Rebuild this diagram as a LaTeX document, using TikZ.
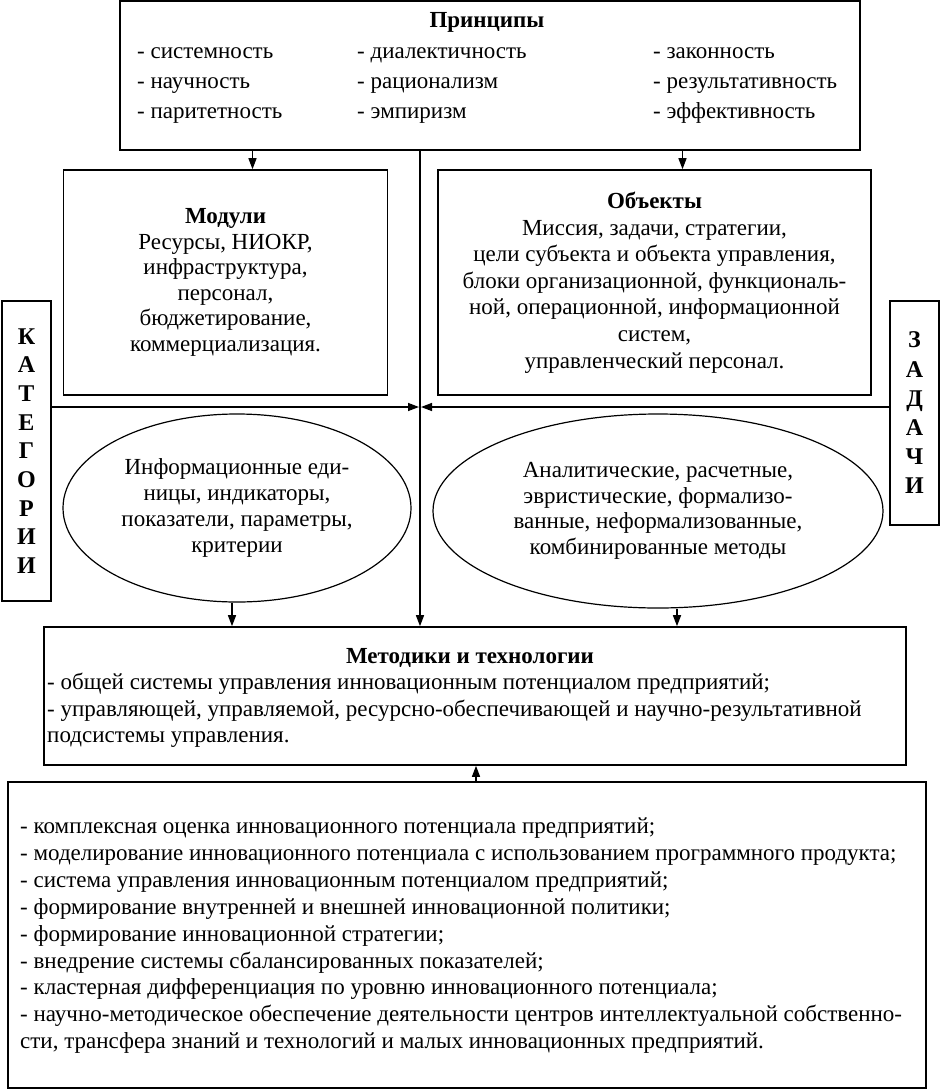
\documentclass[tikz,border=0pt]{standalone}
\usepackage{fontspec}
\setmainfont{Liberation Serif}
\usetikzlibrary{shapes.geometric,arrows.meta}

\tikzset{
  box/.style={draw, line width=1.6pt, inner sep=0pt},
  oval/.style={draw, ellipse, line width=1.2pt, inner sep=0pt},
  txt/.style={inner sep=0pt, text height=16pt, text depth=8pt},
  arr/.style={line width=1.4pt, -{Triangle[length=11pt,width=8pt]}},
  every node/.style={font=\fontsize{23}{26}\selectfont},
}

\begin{document}
\begin{tikzpicture}[x=1pt,y=-1pt]
        \useasboundingbox (0,0) rectangle (941,1090);

        % principles
        \node[box, minimum width=740pt, minimum height=149pt] (princ) at (490,75.5) {};
        \node[txt, font=\fontsize{23}{26}\bfseries] (princt) at (487,23) {Принципы};
        \node[txt, anchor=west] (p11) at (137,54) {- системность};
        \node[txt, anchor=west] (p12) at (137,84) {- научность};
        \node[txt, anchor=west] (p13) at (137,114) {- паритетность};
        \node[txt, anchor=west] (p21) at (357,54) {- диалектичность};
        \node[txt, anchor=west] (p22) at (357,84) {- рационализм};
        \node[txt, anchor=west] (p23) at (357,114) {- эмпиризм};
        \node[txt, anchor=west] (p31) at (653,54) {- законность};
        \node[txt, anchor=west] (p32) at (653,84) {- результативность};
        \node[txt, anchor=west] (p33) at (653,114) {- эффективность};

        % modules and objects
        \node[box, minimum width=324pt, minimum height=225pt, align=center,
              font=\fontsize{23}{25.6}\selectfont] (mod) at (225.5,282.5)
            {\textbf{Модули}\\Ресурсы, НИОКР,\\инфраструктура,\\персонал,\\бюджетирование,\\коммерциализация.};
        \node[box, minimum width=433pt, minimum height=225pt, align=center,
              font=\fontsize{23}{26.6}\selectfont] (obj) at (654.5,282.5)
            {\textbf{Объекты}\\Миссия, задачи, стратегии,\\цели субъекта и объекта управления,\\блоки организационной, функциональ-\\ной, операционной, информационной\\систем,\\управленческий персонал.};

        % side boxes
        \node[box, minimum width=49pt, minimum height=300pt, align=center,
              font=\fontsize{24}{28.7}\bfseries] (kat) at (26.5,451)
            {К\\А\\Т\\Е\\Г\\О\\Р\\И\\И};
        \node[box, minimum width=49pt, minimum height=224pt, align=center,
              font=\fontsize{24}{29.2}\bfseries] (zad) at (914.5,413)
            {З\\А\\Д\\А\\Ч\\И};

        % ovals
        \node[oval, minimum width=348pt, minimum height=188pt, align=center,
              font=\fontsize{23}{26.3}\selectfont] (ell1) at (237,508)
            {Информационные еди-\\ницы, индикаторы,\\показатели, параметры,\\критерии};
        \node[oval, minimum width=450pt, minimum height=194pt, align=center,
              font=\fontsize{23}{25.5}\selectfont] (ell2) at (658,511)
            {Аналитические, расчетные,\\эвристические, формализо-\\ванные, неформализованные,\\комбинированные методы};

        % methods
        \node[box, minimum width=862pt, minimum height=138pt] (met) at (475,696) {};
        \node[txt, font=\fontsize{23}{26}\bfseries] (mett) at (470,659) {Методики и технологии};
        \node[txt, anchor=west] (m1) at (47,685) {- общей системы управления инновационным потенциалом предприятий;};
        \node[txt, anchor=west] (m2) at (47,712) {- управляющей, управляемой, ресурсно-обеспечивающей и научно-результативной};
        \node[txt, anchor=west] (m3) at (47,738) {подсистемы управления.};

        % results
        \node[box, minimum width=918pt, minimum height=306pt] (bot) at (467,935) {};
        \node[txt, anchor=west] (b1) at (20,829) {- комплексная оценка инновационного потенциала предприятий;};
        \node[txt, anchor=west] (b2) at (20,856) {- моделирование инновационного потенциала с использованием программного продукта;};
        \node[txt, anchor=west] (b3) at (20,883) {- система управления инновационным потенциалом предприятий;};
        \node[txt, anchor=west] (b4) at (20,910) {- формирование внутренней и внешней инновационной политики;};
        \node[txt, anchor=west] (b5) at (20,937) {- формирование инновационной стратегии;};
        \node[txt, anchor=west] (b6) at (20,964) {- внедрение системы сбалансированных показателей;};
        \node[txt, anchor=west] (b7) at (20,990) {- кластерная дифференциация по уровню инновационного потенциала;};
        \node[txt, anchor=west] (b8) at (20,1017) {- научно-методическое обеспечение деятельности центров интеллектуальной собственно-};
        \node[txt, anchor=west] (b9) at (20,1044) {сти, трансфера знаний и технологий и малых инновационных предприятий.};

        % connectors
        \coordinate (j) at (420,407);
        \draw[arr] ([xshift=27]mod.north |- princ.south) -- ([xshift=27]mod.north);
        \draw[arr] ([xshift=28]obj.north |- princ.south) -- ([xshift=28]obj.north);
        \draw[arr] (princ.south -| j) -- (met.north -| j);
        \draw[arr, shorten >=1pt] (kat.east |- j) -- (j);
        \draw[arr, shorten >=1pt] (zad.west |- j) -- (j);
        \draw[arr] ([xshift=-5]ell1.south) -- ([xshift=-5]ell1.south |- met.north);
        \draw[arr] ([xshift=19]ell2.south) -- ([xshift=19]ell2.south |- met.north);
        \draw[arr] ([xshift=9]bot.north) -- ([xshift=9]bot.north |- met.south);
    \end{tikzpicture}
\end{document}
